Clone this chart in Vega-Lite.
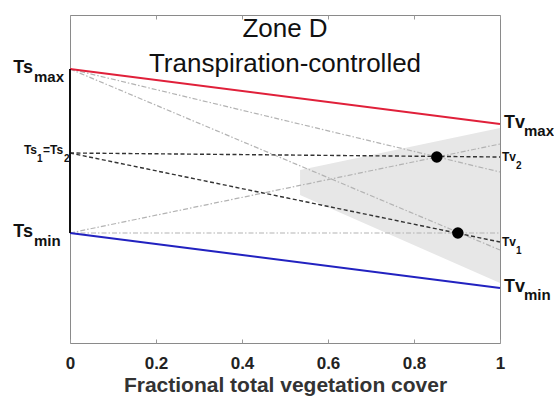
{
  "$schema": "https://vega.github.io/schema/vega-lite/v6.json",
  "width": 430,
  "height": 328,
  "autosize": {"type": "none"},
  "padding": {"left": 70, "top": 15, "right": 54, "bottom": 58},
  "background": "white",
  "config": {
    "view": {"stroke": "#8a8a8a", "strokeWidth": 1},
    "font": "Liberation Sans"
  },
  "datasets": {
    "shade": [
      {"x": 0.535, "top": 173, "bottom": 148},
      {"x": 1, "top": 215, "bottom": 60}
    ],
    "lines": [
      {"id": "red", "k": "red", "x": 0, "y": 274}, {"id": "red", "k": "red", "x": 1, "y": 219},
      {"id": "blue", "k": "blue", "x": 0, "y": 110}, {"id": "blue", "k": "blue", "x": 1, "y": 55},
      {"id": "b1", "k": "black", "x": 0, "y": 190}, {"id": "b1", "k": "black", "x": 1, "y": 186},
      {"id": "b2", "k": "black", "x": 0, "y": 190}, {"id": "b2", "k": "black", "x": 1, "y": 101},
      {"id": "g1", "k": "gray", "x": 0, "y": 274}, {"id": "g1", "k": "gray", "x": 1, "y": 171},
      {"id": "g2", "k": "gray", "x": 0, "y": 274}, {"id": "g2", "k": "gray", "x": 1, "y": 93},
      {"id": "g3", "k": "gray", "x": 0, "y": 110}, {"id": "g3", "k": "gray", "x": 1, "y": 199},
      {"id": "g4", "k": "gray", "x": 0, "y": 110}, {"id": "g4", "k": "gray", "x": 1, "y": 110}
    ],
    "seg": [{"x": 0, "y": 110, "y2": 274}],
    "pts": [{"x": 0.853, "y": 186}, {"x": 0.902, "y": 110}],
    "labels": [
      {"t": "Zone D", "x": 0.5, "y": 306, "r": "title"},
      {"t": "Transpiration-controlled", "x": 0.5, "y": 271, "r": "title"},
      {"t": "Ts", "x": 0, "y": 274, "r": "bigL"},
      {"t": "max", "x": 0, "y": 274, "r": "subL"},
      {"t": "Ts", "x": 0, "y": 110, "r": "bigL"},
      {"t": "min", "x": 0, "y": 110, "r": "subL"},
      {"t": "Tv", "x": 1, "y": 219, "r": "bigR"},
      {"t": "max", "x": 1, "y": 219, "r": "subR"},
      {"t": "Tv", "x": 1, "y": 55, "r": "bigR"},
      {"t": "min", "x": 1, "y": 55, "r": "subR"},
      {"t": "Tv", "x": 1, "y": 186, "r": "smallR"},
      {"t": "2", "x": 1, "y": 186, "r": "smallsubR"},
      {"t": "Tv", "x": 1, "y": 101, "r": "smallR"},
      {"t": "1", "x": 1, "y": 101, "r": "smallsubR"},
      {"t": "Ts", "x": 0, "y": 190, "r": "tsA"},
      {"t": "1", "x": 0, "y": 190, "r": "tsB"},
      {"t": "=Ts", "x": 0, "y": 190, "r": "tsC"},
      {"t": "2", "x": 0, "y": 190, "r": "tsD"}
    ]
  },
  "resolve": {"axis": {"x": "independent"}},
  "layer": [
    {
      "data": {"name": "shade"},
      "mark": {"type": "area", "color": "#e7e7e7", "opacity": 1},
      "encoding": {
        "x": {"field": "x", "type": "quantitative", "scale": {"domain": [0, 1], "nice": false, "zero": false},
          "axis": {"values": [0, 0.2, 0.4, 0.6, 0.8, 1], "format": "~g", "orient": "bottom", "domain": false, "grid": false,
            "ticks": true, "tickSize": -4, "tickColor": "#999", "labelPadding": 16,
            "labelFont": "Liberation Sans", "labelFontWeight": "bold", "labelFontSize": 17, "labelColor": "#222",
            "title": "Fractional total vegetation cover", "titleFont": "Liberation Sans", "titleFontWeight": "bold",
            "titleFontSize": 21, "titleColor": "#333", "titlePadding": 3, "labelFlush": false}},
        "y": {"field": "top", "type": "quantitative", "scale": {"domain": [0, 328], "nice": false, "zero": false}, "axis": null},
        "y2": {"field": "bottom"}
      }
    },
    {
      "data": {"name": "lines"},
      "transform": [{"filter": "datum.k === 'gray'"}],
      "mark": {"type": "line", "color": "#b3b3b3", "strokeWidth": 1.2, "strokeDash": [5, 2, 1.5, 2]},
      "encoding": {
        "x": {"field": "x", "type": "quantitative",
          "axis": {"values": [0, 0.2, 0.4, 0.6, 0.8, 1], "orient": "top", "domain": false, "grid": false,
            "ticks": true, "tickSize": -4, "tickColor": "#999", "labels": false, "title": null}},
        "y": {"field": "y", "type": "quantitative", "axis": null},
        "detail": {"field": "id"}
      }
    },
    {
      "data": {"name": "lines"},
      "transform": [{"filter": "datum.k === 'black'"}],
      "mark": {"type": "line", "color": "#333333", "strokeWidth": 1.4, "strokeDash": [4, 2.5]},
      "encoding": {
        "x": {"field": "x", "type": "quantitative", "axis": null},
        "y": {"field": "y", "type": "quantitative", "axis": null},
        "detail": {"field": "id"}
      }
    },
    {
      "data": {"name": "lines"},
      "transform": [{"filter": "datum.k === 'red'"}],
      "mark": {"type": "line", "color": "#e0203a", "strokeWidth": 2},
      "encoding": {
        "x": {"field": "x", "type": "quantitative", "axis": null},
        "y": {"field": "y", "type": "quantitative", "axis": null}
      }
    },
    {
      "data": {"name": "lines"},
      "transform": [{"filter": "datum.k === 'blue'"}],
      "mark": {"type": "line", "color": "#2222c0", "strokeWidth": 2},
      "encoding": {
        "x": {"field": "x", "type": "quantitative", "axis": null},
        "y": {"field": "y", "type": "quantitative", "axis": null}
      }
    },
    {
      "data": {"name": "seg"},
      "mark": {"type": "rule", "color": "#111", "strokeWidth": 2},
      "encoding": {
        "x": {"field": "x", "type": "quantitative", "axis": null},
        "y": {"field": "y", "type": "quantitative", "axis": null},
        "y2": {"field": "y2"}
      }
    },
    {
      "data": {"name": "pts"},
      "mark": {"type": "circle", "color": "#000", "opacity": 1, "size": 130},
      "encoding": {
        "x": {"field": "x", "type": "quantitative", "axis": null},
        "y": {"field": "y", "type": "quantitative", "axis": null}
      }
    },
    {
      "data": {"name": "labels"},
      "transform": [{"filter": "datum.r === 'title'"}],
      "mark": {"type": "text", "font": "Liberation Sans", "fontSize": 26, "color": "#111", "align": "center", "baseline": "alphabetic"},
      "encoding": {"x": {"field": "x", "type": "quantitative", "axis": null}, "y": {"field": "y", "type": "quantitative", "axis": null}, "text": {"field": "t"}}
    },
    {
      "data": {"name": "labels"},
      "transform": [{"filter": "datum.r === 'bigL'"}],
      "mark": {"type": "text", "font": "Liberation Sans", "fontWeight": "bold", "fontSize": 18, "color": "#111", "align": "right", "baseline": "alphabetic", "dx": -37, "dy": 4},
      "encoding": {"x": {"field": "x", "type": "quantitative", "axis": null}, "y": {"field": "y", "type": "quantitative", "axis": null}, "text": {"field": "t"}}
    },
    {
      "data": {"name": "labels"},
      "transform": [{"filter": "datum.r === 'subL'"}],
      "mark": {"type": "text", "font": "Liberation Sans", "fontWeight": "bold", "fontSize": 15, "color": "#111", "align": "left", "baseline": "alphabetic", "dx": -36, "dy": 13},
      "encoding": {"x": {"field": "x", "type": "quantitative", "axis": null}, "y": {"field": "y", "type": "quantitative", "axis": null}, "text": {"field": "t"}}
    },
    {
      "data": {"name": "labels"},
      "transform": [{"filter": "datum.r === 'bigR'"}],
      "mark": {"type": "text", "font": "Liberation Sans", "fontWeight": "bold", "fontSize": 18, "color": "#111", "align": "left", "baseline": "alphabetic", "dx": 4, "dy": 4},
      "encoding": {"x": {"field": "x", "type": "quantitative", "axis": null}, "y": {"field": "y", "type": "quantitative", "axis": null}, "text": {"field": "t"}}
    },
    {
      "data": {"name": "labels"},
      "transform": [{"filter": "datum.r === 'subR'"}],
      "mark": {"type": "text", "font": "Liberation Sans", "fontWeight": "bold", "fontSize": 15, "color": "#111", "align": "left", "baseline": "alphabetic", "dx": 24, "dy": 12},
      "encoding": {"x": {"field": "x", "type": "quantitative", "axis": null}, "y": {"field": "y", "type": "quantitative", "axis": null}, "text": {"field": "t"}}
    },
    {
      "data": {"name": "labels"},
      "transform": [{"filter": "datum.r === 'smallR'"}],
      "mark": {"type": "text", "font": "Liberation Sans", "fontWeight": "bold", "fontSize": 12, "color": "#111", "align": "left", "baseline": "alphabetic", "dx": 2, "dy": 4},
      "encoding": {"x": {"field": "x", "type": "quantitative", "axis": null}, "y": {"field": "y", "type": "quantitative", "axis": null}, "text": {"field": "t"}}
    },
    {
      "data": {"name": "labels"},
      "transform": [{"filter": "datum.r === 'smallsubR'"}],
      "mark": {"type": "text", "font": "Liberation Sans", "fontWeight": "bold", "fontSize": 10, "color": "#111", "align": "left", "baseline": "alphabetic", "dx": 16, "dy": 12},
      "encoding": {"x": {"field": "x", "type": "quantitative", "axis": null}, "y": {"field": "y", "type": "quantitative", "axis": null}, "text": {"field": "t"}}
    },
    {
      "data": {"name": "labels"},
      "transform": [{"filter": "datum.r === 'tsA'"}],
      "mark": {"type": "text", "font": "Liberation Sans", "fontWeight": "bold", "fontSize": 12, "color": "#111", "align": "right", "baseline": "alphabetic", "dx": -33, "dy": 1},
      "encoding": {"x": {"field": "x", "type": "quantitative", "axis": null}, "y": {"field": "y", "type": "quantitative", "axis": null}, "text": {"field": "t"}}
    },
    {
      "data": {"name": "labels"},
      "transform": [{"filter": "datum.r === 'tsB'"}],
      "mark": {"type": "text", "font": "Liberation Sans", "fontWeight": "bold", "fontSize": 10, "color": "#111", "align": "left", "baseline": "alphabetic", "dx": -33, "dy": 9},
      "encoding": {"x": {"field": "x", "type": "quantitative", "axis": null}, "y": {"field": "y", "type": "quantitative", "axis": null}, "text": {"field": "t"}}
    },
    {
      "data": {"name": "labels"},
      "transform": [{"filter": "datum.r === 'tsC'"}],
      "mark": {"type": "text", "font": "Liberation Sans", "fontWeight": "bold", "fontSize": 12, "color": "#111", "align": "left", "baseline": "alphabetic", "dx": -27, "dy": 1},
      "encoding": {"x": {"field": "x", "type": "quantitative", "axis": null}, "y": {"field": "y", "type": "quantitative", "axis": null}, "text": {"field": "t"}}
    },
    {
      "data": {"name": "labels"},
      "transform": [{"filter": "datum.r === 'tsD'"}],
      "mark": {"type": "text", "font": "Liberation Sans", "fontWeight": "bold", "fontSize": 10, "color": "#111", "align": "left", "baseline": "alphabetic", "dx": -6, "dy": 9},
      "encoding": {"x": {"field": "x", "type": "quantitative", "axis": null}, "y": {"field": "y", "type": "quantitative", "axis": null}, "text": {"field": "t"}}
    }
  ]
}
